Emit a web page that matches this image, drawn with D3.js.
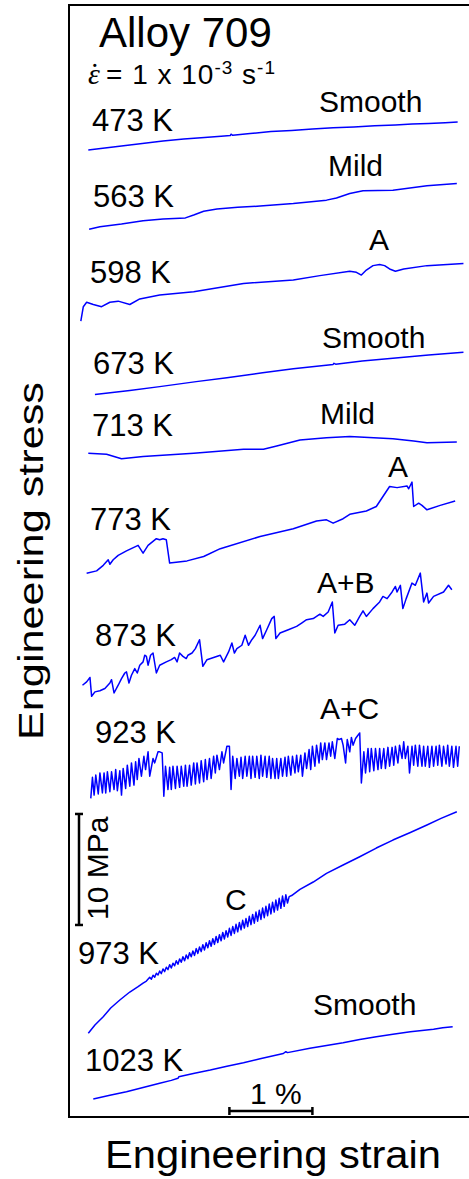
<!DOCTYPE html>
<html>
<head>
<meta charset="utf-8">
<script src="https://cdn.jsdelivr.net/npm/d3@7"></script>
<style>
  html, body { margin: 0; padding: 0; background: #ffffff; }
  svg { display: block; }
  text { font-family: "Liberation Sans", Arial, Helvetica, sans-serif; fill: #000; }
</style>
</head>
<body>
<svg id="chart" width="469" height="1179"></svg>
<script>
// Stress–strain curves of Alloy 709 at a strain rate of 1e-3 /s.
// Strain in %, stress in MPa; each curve carries its own vertical offset
// so the ten tests stack down the panel.

const tempLabels = ["473 K", "563 K", "598 K", "673 K", "713 K", "773 K", "873 K", "923 K", "973 K", "1023 K"];
const modeLabels = ["Smooth", "Mild", "A", "Smooth", "Mild", "A", "A+B", "A+C", "C", "Smooth"];

const curve473 = [[0.10,87.12],[0.30,87.3],[0.50,87.48],[0.75,87.7],[1.00,87.93],[1.25,88.1],[1.50,88.24],[1.70,88.36],[1.81,88.42],[1.82,88.54],[1.84,88.44],[2.05,88.6],[2.30,88.78],[2.55,88.88],[2.80,89.0],[3.05,89.12],[3.30,89.19],[3.55,89.3],[3.80,89.37],[4.00,89.45],[4.20,89.5],[4.40,89.58],[4.55,89.64]];

const curve563 = [[0.11,79.97],[0.24,80.2],[0.50,80.45],[0.76,80.75],[1.00,80.9],[1.27,81.0],[1.37,81.26],[1.49,81.6],[1.65,81.8],[1.90,81.95],[2.17,82.07],[2.57,82.3],[2.97,82.6],[3.09,82.8],[3.25,83.2],[3.41,83.45],[3.77,83.5],[4.18,83.9],[4.54,84.1]];

const curve598 = [[0.01,71.7],[0.04,73.0],[0.08,73.4],[0.16,73.2],[0.26,73.0],[0.36,73.4],[0.46,73.5],[0.60,73.2],[0.72,73.7],[0.96,74.05],[1.37,74.35],[1.97,75.1],[2.57,75.4],[2.89,75.8],[3.25,76.2],[3.33,76.1],[3.39,75.85],[3.45,76.3],[3.53,76.7],[3.61,76.8],[3.67,76.7],[3.73,76.4],[3.80,76.2],[3.90,76.4],[4.18,76.7],[4.62,76.9]];

const curve673 = [[0.18,65.1],[0.60,65.45],[0.96,65.8],[1.40,66.25],[1.77,66.6],[2.20,67.05],[2.57,67.4],[3.05,67.8],[3.06,67.9],[3.08,67.82],[3.40,68.1],[3.77,68.35],[4.20,68.65],[4.62,68.9]];

const curve713 = [[0.10,59.8],[0.32,59.7],[0.50,59.3],[0.76,59.5],[1.37,59.8],[1.97,60.15],[2.21,60.15],[2.37,60.45],[2.65,61.0],[2.97,61.2],[3.25,61.3],[3.77,61.1],[4.02,60.9],[4.18,60.75],[4.54,60.8]];

const curve773 = [[0.08,48.98],[0.20,49.2],[0.28,49.7],[0.34,50.2],[0.36,49.8],[0.40,50.2],[0.46,50.6],[0.56,51.0],[0.70,51.5],[0.76,50.8],[0.82,51.5],[0.92,52.1],[0.96,52.0],[1.00,52.1],[1.04,52.0],[1.08,49.9],[1.29,50.1],[1.49,50.5],[1.69,51.2],[2.17,52.3],[2.57,53.0],[2.85,53.7],[2.97,53.8],[3.05,53.5],[3.17,53.9],[3.25,54.3],[3.45,54.6],[3.57,55.0],[3.65,55.9],[3.73,56.8],[3.82,56.7],[3.94,56.85],[3.96,56.6],[4.00,57.2],[4.02,55.0],[4.08,55.3],[4.12,55.1],[4.18,54.7],[4.34,55.1],[4.52,55.5]];

const curve873 = [[0.03,38.9],[0.08,39.2],[0.12,39.6],[0.14,37.9],[0.18,38.3],[0.24,38.4],[0.30,38.6],[0.36,39.1],[0.38,39.4],[0.41,38.2],[0.46,38.9],[0.50,39.5],[0.54,40.0],[0.56,40.1],[0.59,39.1],[0.62,39.8],[0.66,40.4],[0.69,40.0],[0.72,40.7],[0.76,41.0],[0.78,41.6],[0.80,41.5],[0.82,40.7],[0.85,41.6],[0.88,41.8],[0.92,40.0],[0.96,40.7],[1.04,41.0],[1.10,41.2],[1.14,41.4],[1.17,41.0],[1.20,41.8],[1.24,41.5],[1.28,41.3],[1.30,41.6],[1.35,41.8],[1.39,42.2],[1.44,43.0],[1.48,40.6],[1.53,41.2],[1.61,41.4],[1.69,41.6],[1.73,41.0],[1.79,41.9],[1.83,42.7],[1.86,41.8],[1.89,42.2],[1.95,42.5],[1.99,43.4],[2.03,42.5],[2.07,43.0],[2.11,43.4],[2.17,44.3],[2.20,43.1],[2.25,43.9],[2.31,44.9],[2.34,45.1],[2.36,43.1],[2.41,43.6],[2.51,43.9],[2.61,44.2],[2.67,44.5],[2.73,44.8],[2.81,44.9],[2.89,45.3],[2.93,45.1],[2.99,45.5],[3.04,46.4],[3.07,43.6],[3.11,44.3],[3.19,44.4],[3.25,44.8],[3.31,44.3],[3.37,45.1],[3.41,45.6],[3.45,45.1],[3.53,45.8],[3.61,46.4],[3.65,46.9],[3.70,46.7],[3.76,47.3],[3.80,47.8],[3.82,47.3],[3.86,47.9],[3.89,45.8],[3.93,46.7],[4.00,48.1],[4.04,47.9],[4.10,49.0],[4.14,46.4],[4.18,47.2],[4.20,46.3],[4.26,46.9],[4.38,47.3],[4.44,47.9],[4.48,47.5]];

const curve923 = [[0.13,28.7],[0.15,30.6],[0.17,29.0],[0.19,30.8],[0.22,29.1],[0.24,31.0],[0.27,29.2],[0.29,31.0],[0.31,29.2],[0.33,31.1],[0.36,29.3],[0.38,31.1],[0.41,29.5],[0.43,31.3],[0.45,29.4],[0.48,31.2],[0.50,29.0],[0.52,31.4],[0.55,29.6],[0.57,31.7],[0.60,29.8],[0.62,31.9],[0.65,29.9],[0.67,32.0],[0.69,30.4],[0.71,32.3],[0.74,30.7],[0.77,32.5],[0.79,31.3],[0.82,32.9],[0.84,30.7],[0.88,32.3],[0.90,31.9],[0.94,32.9],[0.96,32.9],[0.99,32.8],[1.01,28.9],[1.03,31.6],[1.06,29.5],[1.08,31.5],[1.10,29.5],[1.12,31.6],[1.15,29.6],[1.17,31.6],[1.20,29.7],[1.22,31.6],[1.25,29.8],[1.27,31.7],[1.29,29.8],[1.32,31.7],[1.34,29.9],[1.37,31.9],[1.39,30.0],[1.41,31.9],[1.44,30.1],[1.46,32.1],[1.49,30.2],[1.51,32.2],[1.53,30.4],[1.56,32.3],[1.58,30.5],[1.61,32.5],[1.63,31.0],[1.65,32.6],[1.68,31.3],[1.71,32.9],[1.73,31.9],[1.77,33.4],[1.80,33.4],[1.82,29.5],[1.84,32.5],[1.87,30.5],[1.89,32.3],[1.92,30.7],[1.94,32.4],[1.96,30.5],[1.99,32.5],[2.01,30.7],[2.04,32.5],[2.06,30.5],[2.08,32.5],[2.11,30.6],[2.13,32.5],[2.16,30.5],[2.18,32.6],[2.20,30.7],[2.23,32.5],[2.25,30.6],[2.28,32.5],[2.30,30.5],[2.32,32.3],[2.35,30.5],[2.37,32.3],[2.39,30.5],[2.42,32.3],[2.44,30.7],[2.47,32.4],[2.49,30.7],[2.51,32.5],[2.54,30.8],[2.56,32.5],[2.59,31.0],[2.61,32.6],[2.63,31.1],[2.66,32.6],[2.68,30.7],[2.71,32.8],[2.73,31.4],[2.76,33.1],[2.78,31.3],[2.80,33.4],[2.83,31.6],[2.85,33.5],[2.88,31.9],[2.90,33.7],[2.92,32.2],[2.95,33.7],[2.97,32.2],[3.00,33.7],[3.02,32.5],[3.04,33.8],[3.07,32.3],[3.10,34.1],[3.12,34.0],[3.15,34.1],[3.17,33.5],[3.20,31.9],[3.22,34.0],[3.25,32.9],[3.27,34.2],[3.29,33.5],[3.32,34.1],[3.34,34.3],[3.37,34.6],[3.39,30.1],[3.42,32.9],[3.44,31.0],[3.47,33.2],[3.49,31.1],[3.51,33.2],[3.54,31.2],[3.56,33.2],[3.59,31.3],[3.61,33.2],[3.63,31.4],[3.66,33.2],[3.68,31.4],[3.71,33.3],[3.73,31.6],[3.76,33.3],[3.78,31.7],[3.80,33.4],[3.83,31.9],[3.85,33.5],[3.88,32.3],[3.90,33.8],[3.92,32.3],[3.95,33.4],[3.97,31.0],[4.00,33.4],[4.02,31.7],[4.04,33.5],[4.07,31.6],[4.09,33.5],[4.12,31.6],[4.14,33.4],[4.16,31.6],[4.19,33.4],[4.21,31.5],[4.24,33.4],[4.26,31.6],[4.29,33.4],[4.31,31.7],[4.33,33.5],[4.36,31.6],[4.38,33.4],[4.41,31.8],[4.43,33.5],[4.45,31.6],[4.48,33.4],[4.50,31.5],[4.53,33.4],[4.55,31.6],[4.57,33.4]];

const curve973 = [[0.10,7.54],[0.18,8.29],[0.28,9.04],[0.37,9.82],[0.48,10.54],[0.60,11.26],[0.70,11.74],[0.76,12.07],[0.80,12.25],[0.84,12.58],[0.86,12.42],[0.88,12.77],[0.90,12.60],[0.92,12.95],[0.94,12.80],[0.96,13.15],[0.98,12.92],[1.00,13.34],[1.02,13.10],[1.04,13.50],[1.06,13.28],[1.08,13.72],[1.10,13.42],[1.12,13.86],[1.14,13.62],[1.16,14.08],[1.18,13.76],[1.20,14.24],[1.22,13.94],[1.24,14.44],[1.26,14.08],[1.28,14.60],[1.30,14.26],[1.32,14.80],[1.34,14.44],[1.36,14.96],[1.38,14.56],[1.40,15.17],[1.42,14.74],[1.44,15.32],[1.46,14.90],[1.48,15.52],[1.50,15.05],[1.52,15.70],[1.54,15.24],[1.56,15.88],[1.58,15.38],[1.60,16.06],[1.62,15.55],[1.64,16.26],[1.66,15.72],[1.68,16.42],[1.70,15.88],[1.72,16.62],[1.74,16.04],[1.76,16.78],[1.78,16.22],[1.80,17.00],[1.82,16.36],[1.84,17.16],[1.86,16.54],[1.88,17.36],[1.90,16.68],[1.92,17.52],[1.94,16.86],[1.96,17.72],[1.98,17.02],[2.00,17.88],[2.02,17.16],[2.04,18.08],[2.06,17.33],[2.08,18.25],[2.10,17.46],[2.12,18.46],[2.14,17.64],[2.16,18.62],[2.18,17.80],[2.20,18.82],[2.22,17.96],[2.24,18.98],[2.26,18.14],[2.28,19.18],[2.30,18.30],[2.32,19.34],[2.34,18.46],[2.36,19.54],[2.38,18.64],[2.40,19.70],[2.42,18.80],[2.44,19.90],[2.46,18.98],[2.48,20.02],[2.50,19.28],[2.52,19.85],[2.55,19.95],[2.65,20.51],[2.81,21.17],[2.97,21.95],[3.17,22.7],[3.37,23.45],[3.57,24.23],[3.77,24.95],[3.98,25.63],[4.18,26.31],[4.35,26.9],[4.54,27.5]];

const curve1023 = [[0.16,1.62],[0.36,1.95],[0.56,2.28],[0.76,2.65],[0.96,3.04],[1.10,3.3],[1.18,3.49],[1.19,3.62],[1.38,3.95],[1.57,4.23],[1.77,4.58],[1.97,4.89],[2.17,5.25],[2.37,5.59],[2.45,5.72],[2.48,5.88],[2.50,5.8],[2.77,6.19],[2.97,6.45],[3.17,6.69],[3.37,6.98],[3.57,7.23],[3.77,7.46],[3.98,7.68],[4.12,7.8],[4.26,7.9],[4.37,8.05],[4.49,8.14]];

const curves = [curve473, curve563, curve598, curve673, curve713, curve773, curve873, curve923, curve973, curve1023];

// Scale bars: 10 MPa of stress and 1 % of strain.
const stressBar = [17.3, 27.3];   // MPa
const strainBar = [1.8, 2.8];     // %

// ---- layout ----
const W = 469, H = 1179;
const frame = { left: 69, top: 5, bottom: 1117 };
const tempPos = [[92,131],[93,207],[90,283],[93,374],[92,436],[90,530],[95,646],[95,743],[78,964],[85,1071]];
const modePos = [[319,112],[328,176],[369,250],[322,348],[320,424],[388,477],[317,593],[320,719],[225,910],[313,1015]];

const svg = d3.select("#chart");

const x = d3.scaleLinear().domain([0, 4.5]).range([80, 80 + 4.5 * 83]);
const y = d3.scaleLinear().domain([0, 100]).range([frame.bottom, frame.bottom - 100 * 11.1]);

// plot frame (right edge runs past the page)
svg.append("rect")
  .attr("x", frame.left).attr("y", frame.top)
  .attr("width", W + 20 - frame.left).attr("height", frame.bottom - frame.top)
  .attr("fill", "none").attr("stroke", "#000").attr("stroke-width", 2);

const line = d3.line().x(d => x(d[0])).y(d => y(d[1]));

svg.append("g").selectAll("path")
  .data(curves).join("path")
  .attr("d", line)
  .attr("fill", "none")
  .attr("stroke", "#0000ff")
  .attr("stroke-width", 1.5)
  .attr("stroke-linejoin", "round");

// temperature and serration-type labels
svg.append("g").selectAll("text")
  .data(tempLabels).join("text")
  .attr("x", (d, i) => tempPos[i][0]).attr("y", (d, i) => tempPos[i][1])
  .attr("font-size", 31).text(d => d);

svg.append("g").selectAll("text")
  .data(modeLabels).join("text")
  .attr("x", (d, i) => modePos[i][0]).attr("y", (d, i) => modePos[i][1])
  .attr("font-size", 30).text(d => d);

// title
svg.append("text").attr("x", 99).attr("y", 47).attr("font-size", 42).text("Alloy 709");

// strain rate: epsilon with an overdot, then the value with superscripts
const serif = "'Liberation Serif', 'DejaVu Serif', serif";
const rate = svg.append("text").attr("x", 88).attr("y", 84).attr("font-size", 28);
rate.append("tspan").attr("font-family", serif).attr("font-size", 30)
  .attr("font-style", "italic").text("\u03B5");
rate.append("tspan").attr("font-family", serif).attr("font-size", 30)
  .attr("dx", -10).text("\u02D9");
const sans = rate.append("tspan").attr("x", 106).attr("letter-spacing", 1);
sans.append("tspan").text("= 1 x 10");
sans.append("tspan").attr("font-size", 19).attr("dy", -10).text("-3");
sans.append("tspan").attr("dy", 10).text(" s");
sans.append("tspan").attr("font-size", 19).attr("dy", -10).text("-1");

// stress scale bar
const sbx = x(-0.012);
const sb = svg.append("g").attr("stroke", "#000").attr("stroke-width", 2.5);
sb.append("line").attr("x1", sbx).attr("x2", sbx).attr("y1", y(stressBar[0])).attr("y2", y(stressBar[1]));
stressBar.forEach(v => sb.append("line").attr("x1", sbx - 4).attr("x2", sbx + 4).attr("y1", y(v)).attr("y2", y(v)));
svg.append("text").attr("transform", `translate(108,${y(stressBar[0]) - 5}) rotate(-90)`)
  .attr("font-size", 30).text("10 MPa");

// strain scale bar
const bby = y(0.54);
const bb = svg.append("g").attr("stroke", "#000").attr("stroke-width", 2.5);
bb.append("line").attr("x1", x(strainBar[0])).attr("x2", x(strainBar[1])).attr("y1", bby).attr("y2", bby);
strainBar.forEach(v => bb.append("line").attr("x1", x(v)).attr("x2", x(v)).attr("y1", bby - 4).attr("y2", bby + 4));
svg.append("text").attr("x", 250).attr("y", 1104).attr("font-size", 30).text("1 %");

// axis titles
svg.append("text").attr("x", 105).attr("y", 1168).attr("font-size", 38)
  .attr("textLength", 336).attr("lengthAdjust", "spacingAndGlyphs").text("Engineering strain");
svg.append("text").attr("transform", "translate(43,740) rotate(-90)").attr("font-size", 35)
  .attr("textLength", 358).attr("lengthAdjust", "spacingAndGlyphs").text("Engineering stress");
</script>
</body>
</html>
